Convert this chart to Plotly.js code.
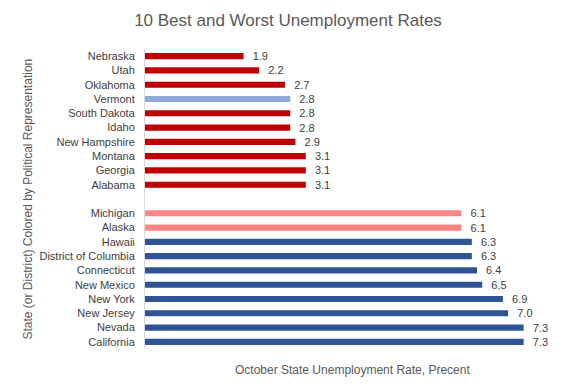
<!DOCTYPE html>
<html>
<head>
<meta charset="utf-8">
<script src="https://cdn.plot.ly/plotly-3.0.1.min.js"></script>
<style>html,body{margin:0;padding:0;background:#fff;}#chart{width:576px;height:384px;}</style>
</head>
<body>
<div id="chart"></div>
<script>
// Top to bottom order; " " is the empty separator row
var states = ["Nebraska","Utah","Oklahoma","Vermont","South Dakota","Idaho","New Hampshire","Montana","Georgia","Alabama",
  " ",
  "Michigan","Alaska","Hawaii","District of Columbia","Connecticut","New Mexico","New York","New Jersey","Nevada","California"];
var rates = [1.9,2.2,2.7,2.8,2.8,2.8,2.9,3.1,3.1,3.1,
  null,
  6.1,6.1,6.3,6.3,6.4,6.5,6.9,7.0,7.3,7.3];
var representation = ["R","R","R","I","R","R","R","R","R","R",
  "",
  "Rmix","Rmix","D","D","D","D","D","D","D","D"];
var labels = ["1.9","2.2","2.7","2.8","2.8","2.8","2.9","3.1","3.1","3.1",
  "",
  "6.1","6.1","6.3","6.3","6.4","6.5","6.9","7.0","7.3","7.3"];

var colorMap = {"R":"#C00000","I":"#8EA9DB","Rmix":"#FF8585","D":"#2F5597","":"rgba(0,0,0,0)"};
var colors = representation.map(function(r){return colorMap[r];});

var FONT = "'Liberation Sans', Arial, sans-serif";

var trace = {
  type: "bar",
  orientation: "h",
  y: states,
  x: rates,
  marker: {color: colors},
  text: labels,
  texttemplate: "\u00a0\u00a0%{text}",
  textposition: "outside",
  constraintext: "none",
  cliponaxis: false,
  textfont: {family: FONT, size: 11, color: "#404040"},
  hoverinfo: "none"
};

var layout = {
  width: 576,
  height: 384,
  margin: {l: 145, r: 16, t: 49, b: 35},
  paper_bgcolor: "#ffffff",
  plot_bgcolor: "#ffffff",
  bargap: 0.57,
  showlegend: false,
  title: {text: "10 Best and Worst Unemployment Rates", x: 0.5, xref: "container", xanchor: "center", y: 0.947, yanchor: "middle",
          font: {family: FONT, size: 17, color: "#595959"}},
  xaxis: {range: [0, 8], showticklabels: false, showgrid: false, zeroline: false, showline: false, ticks: "",
          title: {text: ""}},
  yaxis: {type: "category", categoryorder: "array", categoryarray: states, autorange: "reversed",
          showline: true, linecolor: "#D9D9D9", linewidth: 1, ticks: "", showgrid: false, zeroline: false,
          ticklabelstandoff: 7,
          tickfont: {family: FONT, size: 11, color: "#404040"}},
  annotations: [
    {text: "October State Unemployment Rate, Precent", xref: "paper", yref: "paper", x: 0.5, y: -0.07,
     xanchor: "center", yanchor: "middle", showarrow: false, font: {family: FONT, size: 12, color: "#595959"}},
    {text: "State (or District) Colored by Political Representation", xref: "paper", yref: "paper", x: -0.283, y: 0.5,
     xanchor: "center", yanchor: "middle", textangle: -90, showarrow: false, font: {family: FONT, size: 12, color: "#595959"}}
  ]
};

Plotly.newPlot("chart", [trace], layout, {displayModeBar: false, staticPlot: true});
</script>
</body>
</html>
